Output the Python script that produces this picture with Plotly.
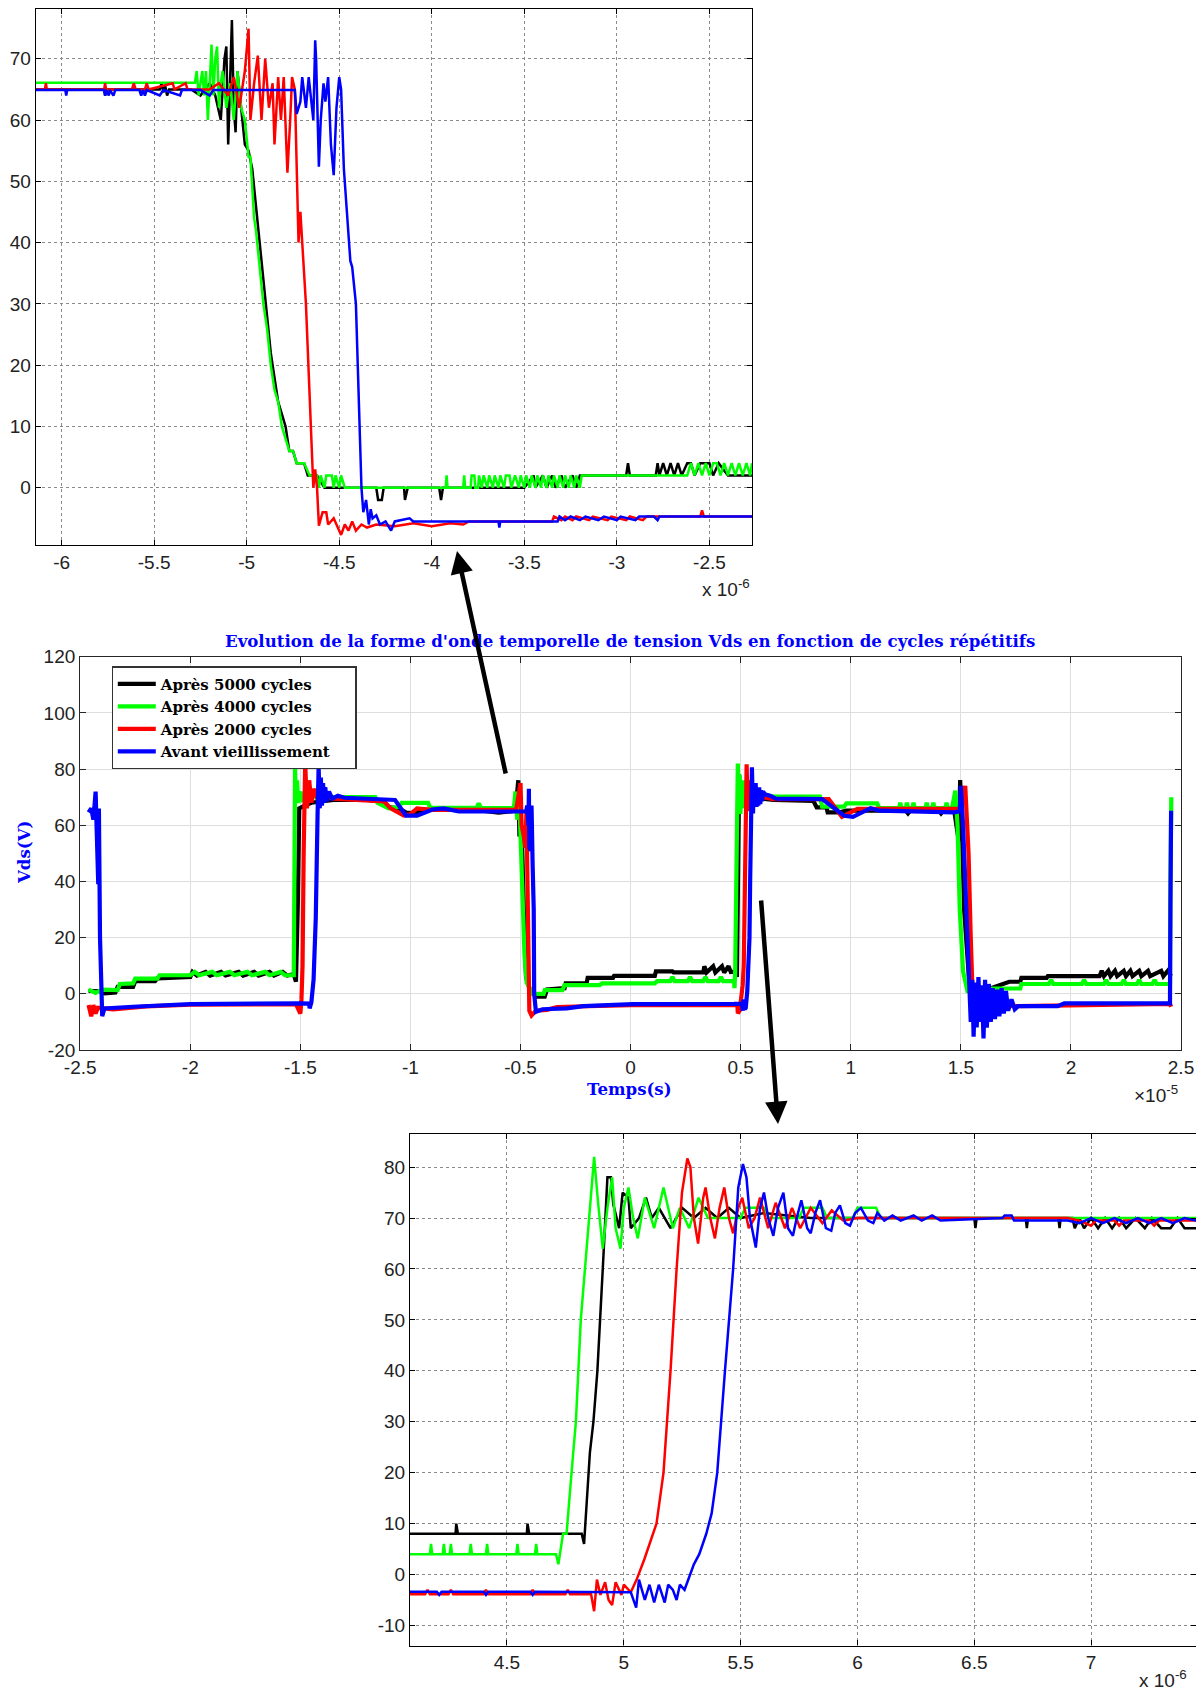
import plotly.graph_objects as go

# The page body has an 8 px margin, so the figure is drawn at (8, 8) and sized to fit the window.
OX, OY = 8, 8
W, H = 1204 - 2 * OX, 1699 - 2 * OY

# ---------------- DATA (time in microseconds, voltage in V) ----------------
series_names = ["Après 5000 cycles", "Après 4000 cycles", "Après 2000 cycles", "Avant vieillissement"]
series_colors = ["#000000", "#00FF00", "#FF0000", "#0000FF"]

# Overview (middle panel)
mid_black = [(-24.62, 1.0), (-24.1, 1.0), (-23.9, 0.2), (-23.4, 0.5), (-23.3, 2.5), (-22.6, 2.5), (-22.5, 4.5),
             (-21.6, 4.5), (-21.5, 5.5), (-20.0, 6.0), (-19.9, 7.8), (-19.7, 6.5), (-19.3, 7.8), (-19.1, 6.5),
             (-18.6, 7.8), (-18.4, 6.5), (-17.8, 7.8), (-17.6, 6.5), (-17.1, 7.8), (-16.9, 6.5), (-16.4, 7.8),
             (-16.2, 6.5), (-15.8, 7.8), (-15.6, 6.5), (-15.3, 7.0), (-15.2, 4.3), (-15.12, 30.0), (-15.05, 66.0),
             (-14.8, 67.0), (-14.5, 68.0), (-13.5, 69.0), (-12.0, 69.0), (-11.2, 68.5), (-11.0, 66.5), (-10.5, 66.0),
             (-10.2, 64.5), (-9.8, 64.2), (-9.5, 65.5), (-9.0, 65.5), (-7.0, 65.5), (-6.0, 64.5), (-5.4, 65.0),
             (-5.2, 68.0), (-5.1, 76.0), (-5.05, 56.0), (-4.95, 60.0), (-4.85, 30.0), (-4.75, 6.0), (-4.6, 2.0),
             (-4.4, 0.0), (-4.3, -1.0), (-3.9, -1.0), (-3.8, 1.5), (-3.0, 2.0), (-2.95, 3.7), (-2.0, 3.7),
             (-1.95, 5.7), (-0.8, 5.7), (-0.75, 6.4), (1.1, 6.4), (1.15, 8.0), (1.9, 8.0), (1.95, 7.6), (3.3, 7.6),
             (3.35, 9.8), (3.45, 7.6), (3.75, 9.8), (3.85, 7.6), (4.15, 9.8), (4.25, 7.6), (4.45, 9.8), (4.55, 7.8),
             (4.8, 8.0), (4.83, 6.0), (4.87, 30.0), (4.91, 60.0), (4.93, 78.0), (4.98, 68.0), (5.02, 74.0),
             (5.1, 68.0), (5.2, 74.0), (5.4, 70.0), (6.5, 69.0), (8.3, 68.7), (8.45, 66.4), (8.9, 66.4),
             (8.95, 64.6), (9.5, 64.6), (9.8, 65.2), (12.5, 65.2), (12.6, 64.2), (12.7, 65.2), (14.0, 65.2),
             (14.1, 64.2), (14.2, 65.2), (14.7, 65.2), (14.9, 54.6), (14.97, 76.1), (15.05, 60.0), (15.15, 30.0),
             (15.3, 10.0), (15.4, 2.0), (16.0, 1.0), (17.2, 4.3), (17.7, 4.3), (17.75, 5.7), (18.9, 5.7),
             (18.95, 6.3), (21.3, 6.3), (21.4, 8.2), (21.5, 6.3), (21.7, 8.2), (21.8, 6.3), (22.0, 8.2), (22.1, 6.3),
             (22.4, 8.2), (22.5, 6.3), (22.7, 8.2), (22.8, 6.3), (23.1, 8.2), (23.2, 6.3), (23.5, 8.2), (23.6, 6.3),
             (24.1, 8.2), (24.2, 6.3), (24.4, 8.2), (24.55, 6.3)]

mid_green = [(-24.62, 1.5), (-24.3, 0.3), (-24.0, 1.5), (-23.3, 1.3), (-23.2, 3.5), (-22.6, 3.7), (-22.5, 5.4),
             (-21.5, 5.4), (-21.4, 6.6), (-20.0, 6.6), (-19.8, 7.8), (-19.6, 6.6), (-19.0, 7.8), (-18.8, 6.6),
             (-18.2, 7.8), (-18.0, 6.6), (-17.4, 7.8), (-17.2, 6.6), (-16.6, 7.8), (-16.4, 6.6), (-15.9, 7.8),
             (-15.7, 6.6), (-15.3, 6.6), (-15.27, 40.0), (-15.24, 80.0), (-15.2, 68.0), (-15.15, 76.0),
             (-15.1, 68.0), (-15.0, 72.0), (-14.9, 69.0), (-14.5, 70.0), (-13.0, 70.0), (-11.6, 70.0),
             (-11.5, 68.0), (-11.0, 66.0), (-10.5, 66.6), (-10.4, 68.0), (-9.2, 68.0), (-9.1, 66.2), (-7.0, 66.2),
             (-6.9, 67.8), (-6.8, 66.2), (-5.3, 66.1), (-5.23, 72.0), (-5.15, 62.0), (-5.05, 68.0), (-4.99, 54.0),
             (-4.9, 30.0), (-4.82, 14.0), (-4.72, 4.0), (-4.6, 2.0), (-4.45, 0.0), (-3.95, 0.0), (-3.9, 1.3),
             (-3.1, 1.3), (-3.0, 3.1), (-1.4, 3.1), (-1.3, 3.7), (1.1, 3.7), (1.2, 4.5), (1.8, 4.5), (1.9, 6.0),
             (2.0, 4.5), (2.6, 4.5), (2.7, 6.0), (2.8, 4.5), (3.3, 4.5), (3.4, 6.0), (3.5, 4.5), (4.0, 4.5),
             (4.1, 6.0), (4.2, 4.5), (4.7, 4.5), (4.72, 2.0), (4.75, 8.0), (4.8, 30.0), (4.83, 58.0), (4.87, 82.0),
             (4.91, 64.0), (4.95, 78.0), (4.99, 64.0), (5.02, 76.0), (5.06, 66.0), (5.1, 74.0), (5.13, 68.0),
             (5.17, 76.0), (5.21, 68.0), (5.3, 72.0), (6.0, 71.0), (6.5, 70.2), (8.6, 70.2), (8.7, 66.6),
             (9.7, 66.6), (9.8, 67.8), (11.2, 67.8), (11.3, 66.1), (12.2, 66.1), (12.25, 68.0), (12.3, 66.1),
             (12.5, 66.1), (12.55, 68.0), (12.6, 66.1), (12.8, 66.1), (12.85, 68.0), (12.9, 66.1), (13.4, 66.1),
             (13.45, 68.0), (13.5, 66.1), (13.7, 66.1), (13.75, 68.0), (13.8, 66.1), (14.3, 66.1), (14.35, 68.0),
             (14.4, 66.1), (14.6, 66.1), (14.75, 72.3), (14.85, 60.0), (14.95, 30.0), (15.1, 8.0), (15.3, 1.0),
             (16.3, 1.9), (17.7, 1.9), (17.75, 3.5), (19.0, 3.5), (19.1, 4.9), (19.2, 3.5), (20.5, 3.5),
             (20.6, 4.9), (20.7, 3.5), (21.5, 3.5), (21.6, 4.9), (21.7, 3.5), (22.3, 3.5), (22.4, 4.9),
             (22.5, 3.5), (23.0, 3.5), (23.1, 4.9), (23.2, 3.5), (23.7, 3.5), (23.8, 4.9), (23.9, 3.5),
             (24.5, 3.5), (24.52, 40.0), (24.56, 70.0)]

mid_red = [(-24.62, -4.0), (-24.5, -8.0), (-24.4, -4.0), (-24.3, -7.0), (-24.2, -5.0), (-23.5, -5.5),
           (-22.0, -4.5), (-20.0, -3.9), (-15.2, -3.7), (-15.0, -7.0), (-14.95, -2.0), (-14.9, 10.0),
           (-14.85, 50.0), (-14.78, 82.0), (-14.7, 66.0), (-14.6, 76.0), (-14.5, 68.0), (-14.4, 73.0),
           (-14.2, 69.0), (-14.0, 71.0), (-13.5, 69.5), (-12.0, 69.0), (-11.2, 68.5), (-10.9, 66.0),
           (-10.3, 63.5), (-10.0, 64.0), (-9.7, 66.0), (-9.0, 65.5), (-5.2, 65.5), (-5.0, 75.0), (-4.95, 60.0),
           (-4.85, 56.0), (-4.78, 52.0), (-4.73, 65.0), (-4.7, 45.0), (-4.65, 10.0), (-4.6, -6.0), (-4.5, -7.7),
           (-4.3, -6.0), (-3.8, -5.7), (-3.34, -4.7), (0.0, -4.0), (4.85, -4.0), (4.87, -7.0), (4.95, -6.0),
           (5.0, -3.0), (5.09, 3.0), (5.14, 10.0), (5.2, 40.0), (5.25, 75.0), (5.27, 81.7), (5.32, 65.0),
           (5.35, 76.0), (5.39, 66.0), (5.43, 76.0), (5.47, 67.0), (5.51, 74.0), (5.58, 74.0), (5.62, 68.0),
           (5.72, 72.0), (5.8, 68.0), (6.0, 70.0), (6.5, 69.3), (9.0, 69.3), (9.6, 63.0), (10.3, 65.8),
           (15.0, 65.8), (15.2, 74.0), (15.35, 50.0), (15.45, 20.0), (15.55, -4.0), (17.6, -4.4), (24.5, -3.6),
           (24.55, -4.6)]

mid_blue = [(-24.62, 64.6), (-24.5, 66.0), (-24.4, 62.0), (-24.3, 72.0), (-24.25, 58.0), (-24.18, 39.0),
            (-24.15, 66.0), (-24.1, 20.0), (-24.0, -8.0), (-23.9, -5.2), (-22.6, -4.6), (-20.0, -3.7),
            (-15.0, -3.4), (-14.6, -3.5), (-14.58, -5.2), (-14.5, -3.0), (-14.4, 5.0), (-14.3, 27.0),
            (-14.22, 63.0), (-14.17, 81.0), (-14.12, 66.0), (-14.07, 77.0), (-14.02, 67.0), (-13.97, 75.0),
            (-13.92, 68.0), (-13.87, 73.5), (-13.8, 68.5), (-13.7, 72.0), (-13.55, 69.5), (-13.3, 70.5),
            (-13.0, 69.8), (-12.0, 69.3), (-10.7, 69.0), (-10.2, 63.4), (-9.7, 63.4), (-9.0, 65.6), (-8.5, 66.0),
            (-7.8, 64.9), (-4.74, 64.9), (-4.7, 67.0), (-4.64, 60.0), (-4.62, 73.0), (-4.6, 52.0), (-4.53, 51.0),
            (-4.5, 67.0), (-4.45, 46.0), (-4.4, 30.0), (-4.38, 0.0), (-4.3, -6.4), (-4.0, -5.5), (-2.9, -5.2),
            (-2.15, -4.4), (0.1, -3.7), (4.7, -3.6), (5.05, -3.5), (5.1, -6.0), (5.13, -2.0), (5.18, -5.5),
            (5.23, -5.0), (5.3, 1.0), (5.35, 8.0), (5.4, 20.0), (5.43, 40.0), (5.47, 60.0), (5.51, 80.6),
            (5.56, 64.2), (5.6, 75.0), (5.64, 66.5), (5.68, 75.0), (5.72, 66.5), (5.76, 73.5), (5.8, 67.0),
            (5.84, 73.5), (5.89, 67.5), (5.93, 72.5), (5.97, 68.5), (6.02, 72.0), (6.1, 71.0), (6.33, 70.5),
            (6.6, 69.5), (8.7, 69.3), (9.7, 63.4), (10.1, 63.0), (10.9, 66.1), (11.3, 65.2), (14.7, 64.6),
            (14.95, 65.0), (15.0, 74.0), (15.1, 60.0), (15.25, 30.0), (15.35, 9.6), (15.45, -10.0), (15.52, 5.0),
            (15.58, -15.3), (15.65, 4.0), (15.72, -12.0), (15.8, 6.0), (15.87, -10.0), (15.95, 3.0),
            (16.03, -15.9), (16.1, 5.0), (16.18, -12.0), (16.27, 3.5), (16.36, -10.0), (16.45, 2.0),
            (16.55, -9.0), (16.65, 1.5), (16.75, -8.0), (16.85, 2.0), (16.95, -7.0), (17.05, 1.0), (17.15, -6.0),
            (17.3, -2.0), (17.45, -5.5), (17.6, -4.4), (19.4, -4.4), (19.7, -3.4), (24.5, -3.4), (24.52, 30.0),
            (24.55, 65.2)]

# Zoom on the falling edge (top panel)
top_black = [(-6.14, 65.0), (-5.77, 65.0), (-5.765, 64.0), (-5.755, 65.0), (-5.47, 65.0), (-5.46, 66.0),
             (-5.45, 64.5), (-5.44, 65.5), (-5.43, 64.0), (-5.42, 65.0), (-5.3, 65.0), (-5.25, 64.0),
             (-5.2, 66.0), (-5.17, 64.0), (-5.14, 60.0), (-5.12, 70.0), (-5.11, 72.0), (-5.10, 56.0),
             (-5.09, 66.0), (-5.08, 76.3), (-5.07, 62.0), (-5.06, 58.0), (-5.05, 68.0), (-5.03, 62.0),
             (-5.01, 56.0), (-4.99, 55.0), (-4.97, 52.0), (-4.95, 46.0), (-4.93, 40.0), (-4.91, 34.0),
             (-4.89, 28.0), (-4.87, 22.0), (-4.85, 18.0), (-4.83, 14.0), (-4.81, 12.0), (-4.79, 10.0),
             (-4.77, 6.0), (-4.75, 6.0), (-4.73, 4.0), (-4.69, 4.0), (-4.67, 2.0), (-4.62, 2.0), (-4.58, 0.0),
             (-4.3, 0.0), (-4.29, -2.0), (-4.27, -2.0), (-4.26, 0.0), (-4.15, 0.0), (-4.145, -2.0), (-4.13, 0.0),
             (-3.96, 0.0), (-3.95, -2.0), (-3.94, 0.0), (-3.5, 0.0), (-3.45, 2.0), (-3.44, 0.0), (-3.40, 2.0),
             (-3.38, 0.0), (-3.35, 2.0), (-3.33, 0.0), (-3.30, 2.0), (-3.28, 0.0), (-3.24, 2.0), (-3.22, 0.0),
             (-3.20, 2.0), (-2.95, 2.0), (-2.94, 4.0), (-2.93, 2.0), (-2.79, 2.0), (-2.78, 4.0), (-2.77, 2.0),
             (-2.75, 4.0), (-2.73, 2.0), (-2.71, 4.0), (-2.69, 2.0), (-2.67, 4.0), (-2.65, 2.0), (-2.62, 4.0),
             (-2.60, 4.0), (-2.58, 2.0), (-2.55, 4.0), (-2.50, 4.0), (-2.48, 2.0), (-2.45, 4.0), (-2.40, 2.0),
             (-2.27, 2.0)]

top_green = [(-6.14, 66.1), (-5.28, 66.1), (-5.27, 68.0), (-5.26, 64.0), (-5.24, 68.0), (-5.23, 64.0),
             (-5.22, 68.0), (-5.21, 60.0), (-5.20, 66.0), (-5.19, 72.3), (-5.18, 64.0), (-5.17, 70.0),
             (-5.16, 72.0), (-5.15, 62.0), (-5.14, 66.0), (-5.13, 68.0), (-5.11, 62.0), (-5.09, 66.0),
             (-5.07, 60.0), (-5.05, 68.0), (-5.03, 62.0), (-5.01, 60.0), (-4.99, 54.0), (-4.98, 54.0),
             (-4.96, 44.0), (-4.95, 42.0), (-4.93, 36.0), (-4.91, 30.0), (-4.89, 26.0), (-4.87, 20.0),
             (-4.85, 16.0), (-4.83, 14.0), (-4.81, 10.0), (-4.79, 8.0), (-4.77, 6.0), (-4.75, 6.0), (-4.73, 4.0),
             (-4.69, 4.0), (-4.66, 2.0), (-4.62, 2.0), (-4.61, 0.0), (-4.60, 2.0), (-4.58, 0.0), (-4.57, 2.0),
             (-4.54, 2.0), (-4.53, 0.0), (-4.52, 2.0), (-4.50, 0.0), (-4.49, 2.0), (-4.47, 0.0), (-3.925, 0.0),
             (-3.92, 2.0), (-3.915, 0.0), (-3.83, 0.0), (-3.825, 2.0), (-3.82, 0.0), (-3.79, 0.0), (-3.785, 2.0),
             (-3.77, 2.0), (-3.765, 0.0), (-3.75, 0.0), (-3.745, 2.0), (-3.73, 0.0), (-3.72, 2.0), (-3.70, 0.0),
             (-3.69, 2.0), (-3.67, 0.0), (-3.66, 2.0), (-3.64, 0.0), (-3.63, 2.0), (-3.61, 0.0), (-3.60, 2.0),
             (-3.58, 2.0), (-3.57, 0.0), (-3.55, 2.0), (-3.53, 0.0), (-3.52, 2.0), (-3.50, 0.0), (-3.49, 2.0),
             (-3.47, 0.0), (-3.46, 2.0), (-3.44, 0.0), (-3.43, 2.0), (-3.41, 0.0), (-3.40, 2.0), (-3.38, 0.0),
             (-3.37, 2.0), (-3.35, 0.0), (-3.34, 2.0), (-3.32, 0.0), (-3.31, 2.0), (-3.29, 0.0), (-3.28, 2.0),
             (-3.26, 0.0), (-3.25, 2.0), (-3.23, 0.0), (-3.22, 2.0), (-3.20, 0.0), (-3.19, 2.0), (-2.62, 2.0),
             (-2.60, 4.0), (-2.58, 2.0), (-2.56, 4.0), (-2.54, 2.0), (-2.52, 4.0), (-2.50, 2.0), (-2.48, 4.0),
             (-2.46, 4.0), (-2.44, 2.0), (-2.42, 4.0), (-2.40, 2.0), (-2.38, 4.0), (-2.36, 2.0), (-2.34, 4.0),
             (-2.32, 2.0), (-2.30, 4.0), (-2.28, 2.0), (-2.27, 4.0)]

top_red = [(-6.14, 65.0), (-6.09, 65.0), (-6.085, 66.0), (-6.08, 65.0), (-5.77, 65.0), (-5.765, 66.0),
           (-5.76, 65.0), (-5.62, 65.0), (-5.61, 66.0), (-5.60, 65.0), (-5.55, 65.0), (-5.54, 66.0),
           (-5.53, 65.0), (-5.40, 66.0), (-5.39, 65.0), (-5.33, 66.0), (-5.32, 65.0), (-5.20, 65.0),
           (-5.15, 66.0), (-5.10, 64.0), (-5.07, 67.0), (-5.04, 62.0), (-5.01, 68.0), (-4.99, 74.9),
           (-4.98, 60.0), (-4.96, 66.0), (-4.94, 70.5), (-4.92, 60.0), (-4.90, 70.0), (-4.88, 62.0),
           (-4.86, 66.0), (-4.85, 56.0), (-4.83, 67.0), (-4.815, 60.0), (-4.80, 67.0), (-4.78, 51.4),
           (-4.765, 60.0), (-4.755, 67.0), (-4.74, 65.0), (-4.73, 50.0), (-4.72, 40.0), (-4.71, 45.0),
           (-4.70, 40.0), (-4.68, 30.0), (-4.66, 15.0), (-4.64, 0.0), (-4.63, 3.0), (-4.62, 0.0),
           (-4.61, -6.2), (-4.59, -4.0), (-4.57, -4.0), (-4.56, -6.0), (-4.53, -5.0), (-4.51, -6.5),
           (-4.49, -7.7), (-4.47, -6.0), (-4.45, -7.0), (-4.43, -5.5), (-4.41, -7.0), (-4.38, -6.0),
           (-4.35, -6.5), (-4.30, -6.0), (-4.20, -6.3), (-4.10, -5.8), (-4.00, -6.3), (-3.90, -5.8),
           (-3.83, -6.0), (-3.80, -5.5), (-3.35, -5.5), (-3.34, -4.7), (-3.30, -5.3), (-3.28, -4.7),
           (-3.24, -5.3), (-3.22, -4.7), (-3.15, -5.3), (-3.13, -4.7), (-3.05, -5.3), (-3.03, -4.7),
           (-2.95, -5.3), (-2.93, -4.7), (-2.86, -5.3), (-2.84, -4.7), (-2.55, -4.7), (-2.54, -3.7),
           (-2.53, -4.7), (-2.27, -4.7)]

top_blue = [(-6.14, 64.9), (-5.98, 64.9), (-5.975, 64.0), (-5.97, 64.9), (-5.77, 64.9), (-5.765, 64.0),
            (-5.76, 64.9), (-5.745, 64.0), (-5.74, 64.9), (-5.72, 64.0), (-5.71, 64.9), (-5.58, 64.9),
            (-5.57, 64.0), (-5.56, 64.9), (-5.55, 64.0), (-5.54, 64.9), (-5.47, 64.0), (-5.45, 64.9),
            (-5.36, 64.0), (-5.35, 64.9), (-5.25, 64.9), (-5.20, 64.0), (-5.18, 64.9), (-4.74, 64.9),
            (-4.73, 61.0), (-4.71, 63.0), (-4.70, 67.0), (-4.68, 62.0), (-4.665, 67.0), (-4.65, 63.0),
            (-4.64, 60.0), (-4.63, 73.0), (-4.625, 70.0), (-4.61, 52.4), (-4.60, 60.0), (-4.585, 66.0),
            (-4.575, 63.0), (-4.56, 67.0), (-4.545, 56.0), (-4.53, 51.0), (-4.515, 62.0), (-4.50, 67.0),
            (-4.49, 65.0), (-4.475, 52.0), (-4.46, 46.0), (-4.44, 37.0), (-4.43, 36.0), (-4.41, 30.0),
            (-4.40, 20.0), (-4.39, 10.0), (-4.38, 0.0), (-4.37, -4.0), (-4.355, -2.0), (-4.34, -6.0),
            (-4.33, -3.5), (-4.32, -5.0), (-4.30, -4.5), (-4.28, -6.0), (-4.25, -5.5), (-4.22, -7.0),
            (-4.20, -5.5), (-4.12, -5.0), (-4.10, -5.5), (-3.93, -5.5), (-3.92, -5.5), (-3.64, -5.5),
            (-3.635, -6.5), (-3.63, -5.5), (-3.32, -5.5), (-3.31, -4.7), (-3.28, -5.3), (-3.25, -4.7),
            (-3.20, -5.3), (-3.17, -4.7), (-3.10, -5.3), (-3.07, -4.7), (-3.00, -5.3), (-2.98, -4.7),
            (-2.90, -5.3), (-2.88, -4.7), (-2.80, -4.7), (-2.78, -5.3), (-2.77, -4.7), (-2.27, -4.7)]

# Zoom on the rising edge (bottom panel)
bot_black = [(4.085, 8.0), (4.28, 8.0), (4.283, 10.0), (4.29, 8.0), (4.585, 8.0), (4.588, 10.0), (4.595, 8.0),
             (4.82, 8.0), (4.83, 6.0), (4.845, 18.0), (4.855, 24.0), (4.865, 28.0), (4.87, 30.0), (4.887, 40.0),
             (4.895, 48.0), (4.91, 60.0), (4.92, 69.0), (4.93, 78.0), (4.945, 78.0), (4.955, 72.7), (4.98, 68.0),
             (4.995, 75.0), (5.02, 74.0), (5.03, 68.0), (5.065, 70.0), (5.095, 74.0), (5.12, 70.0), (5.15, 72.0),
             (5.2, 68.0), (5.25, 72.0), (5.3, 70.0), (5.35, 72.0), (5.4, 70.0), (5.45, 72.0), (5.5, 70.0),
             (5.6, 71.0), (5.8, 70.0), (6.0, 70.0), (6.5, 70.0), (6.505, 68.0), (6.51, 70.0), (6.72, 70.0),
             (6.725, 68.0), (6.73, 70.0), (6.86, 70.0), (6.865, 68.0), (6.87, 70.0), (6.92, 70.0), (6.93, 68.0),
             (6.95, 70.0), (6.97, 68.0), (7.0, 70.0), (7.03, 68.0), (7.06, 70.0), (7.09, 68.0), (7.12, 70.0),
             (7.15, 68.0), (7.19, 70.0), (7.23, 68.0), (7.26, 70.0), (7.3, 68.0), (7.34, 68.0), (7.37, 70.0),
             (7.4, 68.0), (7.449, 68.0)]

bot_green = [(4.085, 4.0), (4.17, 4.0), (4.175, 6.0), (4.18, 4.0), (4.225, 4.0), (4.23, 6.0), (4.235, 4.0),
             (4.255, 4.0), (4.26, 6.0), (4.265, 4.0), (4.34, 4.0), (4.345, 6.0), (4.35, 4.0), (4.41, 4.0),
             (4.415, 6.0), (4.42, 4.0), (4.54, 4.0), (4.545, 6.0), (4.55, 4.0), (4.62, 4.0), (4.625, 6.0),
             (4.63, 4.0), (4.71, 4.0), (4.72, 2.0), (4.74, 8.0), (4.755, 8.0), (4.78, 22.0), (4.795, 30.0),
             (4.816, 50.0), (4.83, 58.0), (4.85, 70.0), (4.873, 82.0), (4.89, 73.0), (4.91, 64.0), (4.93, 72.0),
             (4.95, 78.0), (4.965, 68.0), (4.986, 64.0), (5.0, 72.0), (5.02, 76.0), (5.04, 70.0), (5.06, 66.0),
             (5.09, 74.0), (5.13, 68.0), (5.17, 76.0), (5.21, 68.0), (5.24, 72.0), (5.28, 68.0), (5.32, 74.0),
             (5.36, 70.0), (5.5, 70.0), (5.52, 72.0), (5.6, 72.0), (5.62, 70.0), (5.75, 70.0), (5.77, 72.0),
             (5.85, 72.0), (5.87, 70.0), (5.98, 70.0), (6.0, 72.0), (6.08, 72.0), (6.1, 70.0), (7.449, 70.0)]

bot_red = [(4.085, -3.9), (4.15, -3.9), (4.16, -3.0), (4.17, -3.9), (4.25, -3.9), (4.26, -3.0), (4.27, -3.9),
           (4.4, -3.9), (4.41, -3.0), (4.42, -3.9), (4.6, -3.9), (4.61, -3.0), (4.62, -3.9), (4.75, -3.9),
           (4.76, -3.0), (4.77, -3.9), (4.86, -3.9), (4.873, -7.2), (4.885, -1.0), (4.9, -4.0), (4.92, -1.5),
           (4.935, -5.0), (4.95, -6.0), (4.965, -1.5), (4.99, -4.0), (5.0, -2.0), (5.03, -3.5), (5.055, -1.0),
           (5.088, 3.0), (5.11, 6.0), (5.14, 10.0), (5.17, 20.0), (5.2, 40.0), (5.226, 60.0), (5.249, 75.0),
           (5.272, 81.7), (5.285, 80.0), (5.3, 70.0), (5.318, 65.0), (5.34, 74.0), (5.35, 76.0), (5.37, 70.0),
           (5.39, 66.0), (5.41, 72.0), (5.43, 76.0), (5.45, 70.0), (5.468, 67.0), (5.49, 72.0), (5.507, 74.0),
           (5.535, 68.0), (5.56, 70.0), (5.583, 74.0), (5.618, 68.0), (5.65, 73.0), (5.69, 68.0), (5.72, 72.0),
           (5.755, 68.0), (5.8, 72.0), (5.85, 69.0), (5.89, 71.5), (5.94, 69.5), (6.0, 70.0), (6.9, 70.0),
           (6.95, 69.5), (7.0, 68.5), (7.02, 69.5), (7.1, 69.5), (7.12, 68.5), (7.14, 69.5), (7.25, 69.5),
           (7.27, 68.5), (7.29, 69.5), (7.449, 69.5)]

bot_blue = [(4.085, -3.4), (4.2, -3.4), (4.21, -4.0), (4.22, -3.4), (4.4, -3.4), (4.41, -4.0), (4.42, -3.4),
            (4.6, -3.4), (4.61, -4.0), (4.62, -3.4), (5.03, -3.5), (5.053, -6.5), (5.065, -1.0), (5.09, -5.0),
            (5.11, -2.0), (5.13, -5.5), (5.15, -2.0), (5.175, -5.5), (5.19, -2.0), (5.21, -3.0), (5.226, -5.0),
            (5.24, -2.0), (5.26, -3.0), (5.284, 0.0), (5.3, 2.0), (5.323, 4.0), (5.353, 8.0), (5.376, 12.0),
            (5.4, 20.0), (5.433, 40.0), (5.468, 60.0), (5.49, 76.0), (5.51, 80.6), (5.525, 78.0), (5.54, 70.0),
            (5.565, 64.2), (5.583, 72.0), (5.6, 75.0), (5.618, 70.0), (5.64, 66.5), (5.66, 72.0), (5.683, 75.0),
            (5.703, 68.0), (5.724, 66.5), (5.74, 70.0), (5.76, 73.5), (5.785, 68.0), (5.8, 67.0), (5.82, 71.0),
            (5.84, 73.5), (5.865, 68.0), (5.888, 67.5), (5.905, 71.0), (5.925, 72.5), (5.948, 69.0),
            (5.968, 68.5), (5.99, 71.0), (6.015, 72.0), (6.045, 69.5), (6.068, 69.0), (6.085, 71.0),
            (6.115, 69.5), (6.15, 70.5), (6.185, 69.5), (6.24, 70.5), (6.275, 69.5), (6.32, 70.5), (6.355, 69.5),
            (6.62, 70.0), (6.63, 70.5), (6.66, 70.5), (6.67, 69.5), (6.9, 69.5), (6.95, 69.0), (7.0, 70.0),
            (7.05, 69.0), (7.1, 70.0), (7.15, 69.0), (7.2, 70.0), (7.25, 69.0), (7.3, 70.0), (7.35, 69.0),
            (7.4, 70.0), (7.449, 69.5)]

mid_data = [mid_black, mid_green, mid_red, mid_blue]
top_data = [top_black, top_green, top_red, top_blue]
bot_data = [bot_black, bot_green, bot_red, bot_blue]

# Axis ticks
top_xticks = [-6, -5.5, -5, -4.5, -4, -3.5, -3, -2.5]
top_yticks = [0, 10, 20, 30, 40, 50, 60, 70]
mid_xticks = [-25, -20, -15, -10, -5, 0, 5, 10, 15, 20, 25]
mid_xlabels = ["-2.5", "-2", "-1.5", "-1", "-0.5", "0", "0.5", "1", "1.5", "2", "2.5"]
mid_yticks = [-20, 0, 20, 40, 60, 80, 100, 120]
bot_xticks = [4.5, 5, 5.5, 6, 6.5, 7]
bot_yticks = [-10, 0, 10, 20, 30, 40, 50, 60, 70, 80]


def labels(vals):
    return ["%g" % v for v in vals]


# ---------------- FIGURE ----------------
fig = go.Figure()

def px_x(p):
    return min(max((p - OX) / W, 0.0), 1.0)

def px_y(p):
    return min(max(1 - (p - OY) / H, 0.0), 1.0)

for i, (name, col) in enumerate(zip(series_names, series_colors)):
    t, v = zip(*top_data[i])
    fig.add_trace(go.Scatter(x=t, y=v, mode="lines", line=dict(color=col, width=2.5),
                             xaxis="x", yaxis="y", showlegend=False, hoverinfo="skip"))
for i, (name, col) in enumerate(zip(series_names, series_colors)):
    t, v = zip(*mid_data[i])
    fig.add_trace(go.Scatter(x=t, y=v, mode="lines", line=dict(color=col, width=4.2),
                             xaxis="x2", yaxis="y2",
                             name="<b>" + name + "</b>" + "\u00a0" * 4, showlegend=True,
                             hoverinfo="skip"))
for i, (name, col) in enumerate(zip(series_names, series_colors)):
    t, v = zip(*bot_data[i])
    fig.add_trace(go.Scatter(x=t, y=v, mode="lines", line=dict(color=col, width=2.5),
                             xaxis="x3", yaxis="y3", showlegend=False, hoverinfo="skip"))

tickfont = dict(family="Liberation Sans, Arial, sans-serif", size=19, color="#222222")

zoom_axis = dict(showline=True, linecolor="black", linewidth=1.2, mirror="ticks", ticks="inside",
                 ticklen=5, tickcolor="black", showgrid=True, gridcolor="#8a8a8a", griddash="dot",
                 gridwidth=1, zeroline=False, tickfont=tickfont, automargin=False)
mid_axis = dict(showline=True, linecolor="#262626", linewidth=1.2, mirror="ticks", ticks="inside",
                ticklen=6, tickcolor="#262626", showgrid=True, gridcolor="#dedede", gridwidth=1,
                zeroline=False, tickfont=tickfont, automargin=False)

fig.update_layout(
    width=W, height=H, autosize=False,
    margin=dict(l=0, r=0, t=0, b=0, pad=0),
    paper_bgcolor="white", plot_bgcolor="white",
    xaxis=dict(domain=[px_x(35.7), px_x(752)], range=[-6.14, -2.27], anchor="y",
               tickvals=top_xticks, ticktext=labels(top_xticks), **zoom_axis),
    yaxis=dict(domain=[px_y(544.7), px_y(8.5)], range=[-9.3, 78.2], anchor="x",
               tickvals=top_yticks, ticktext=labels(top_yticks), **zoom_axis),
    xaxis2=dict(domain=[px_x(80.2), px_x(1181)], range=[-25, 25], anchor="y2",
                tickvals=mid_xticks, ticktext=mid_xlabels, **mid_axis),
    yaxis2=dict(domain=[px_y(1050), px_y(656.7)], range=[-20, 120], anchor="x2",
                tickvals=mid_yticks, ticktext=labels(mid_yticks), **mid_axis),
    xaxis3=dict(domain=[px_x(410), px_x(1196)], range=[4.085, 7.449], anchor="y3",
                tickvals=bot_xticks, ticktext=labels(bot_xticks), **zoom_axis),
    yaxis3=dict(domain=[px_y(1645.5), px_y(1133.5)], range=[-13.94, 86.6], anchor="x3",
                tickvals=bot_yticks, ticktext=labels(bot_yticks), **zoom_axis),
    legend=dict(x=px_x(111.6), y=px_y(666.4), xanchor="left", yanchor="top",
                bgcolor="white", bordercolor="#333333", borderwidth=1.2,
                font=dict(family="DejaVu Serif, Liberation Serif, serif", size=15, color="black"),
                tracegroupgap=0, itemwidth=38),
    showlegend=True,
)

serif_bold_blue = dict(family="DejaVu Serif, Liberation Serif, serif", size=16.6, color="#0000FF")
exp_font = dict(family="Liberation Sans, Arial, sans-serif", size=19, color="#222222")
ann = [
    dict(text="<b>Evolution de la forme d'onde temporelle de tension Vds en fonction de cycles répétitifs</b>",
         x=px_x(629.5), y=px_y(640.5), xref="paper", yref="paper", showarrow=False,
         font=serif_bold_blue, xanchor="center", yanchor="middle"),
    dict(text="<b>Vds(V)</b>", x=px_x(24), y=px_y(853), xref="paper", yref="paper", showarrow=False,
         textangle=-90, font=serif_bold_blue, xanchor="center", yanchor="middle"),
    dict(text="<b>Temps(s)</b>", x=px_x(629.6), y=px_y(1089), xref="paper", yref="paper", showarrow=False,
         font=serif_bold_blue, xanchor="center", yanchor="middle"),
    dict(text="×10<sup>-5</sup>", x=px_x(1156), y=px_y(1094), xref="paper", yref="paper", showarrow=False,
         font=exp_font, xanchor="center", yanchor="middle"),
    dict(text="x 10<sup>-6</sup>", x=px_x(726), y=px_y(588), xref="paper", yref="paper", showarrow=False,
         font=exp_font, xanchor="center", yanchor="middle"),
    dict(text="x 10<sup>-6</sup>", x=px_x(1163), y=px_y(1679), xref="paper", yref="paper", showarrow=False,
         font=exp_font, xanchor="center", yanchor="middle"),
    # arrows linking overview to zooms
    dict(text="", x=px_x(457), y=px_y(551), xref="paper", yref="paper", showarrow=True,
         ax=49, ay=224, axref="pixel", ayref="pixel", arrowhead=2, arrowsize=1.0, arrowwidth=4.5,
         arrowcolor="black"),
    dict(text="", x=px_x(778), y=px_y(1124), xref="paper", yref="paper", showarrow=True,
         ax=-17, ay=-225, axref="pixel", ayref="pixel", arrowhead=2, arrowsize=1.0, arrowwidth=4.5,
         arrowcolor="black"),
]
fig.update_layout(annotations=ann)

fig.write_html("out.html")
